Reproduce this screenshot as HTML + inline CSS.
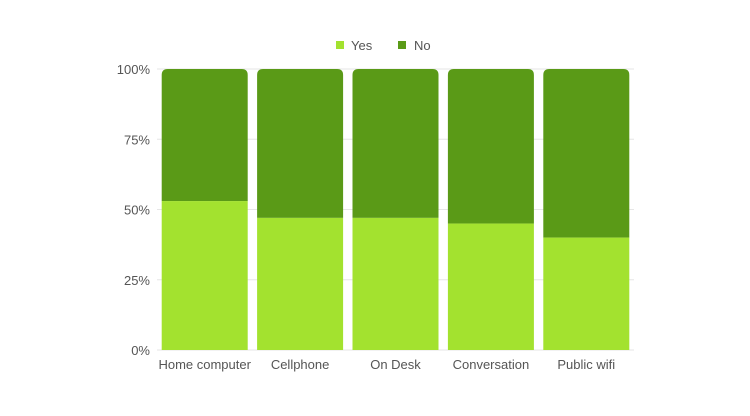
<!DOCTYPE html>
<html><head><meta charset="utf-8"><style>
body{margin:0;background:#fff;}
svg{display:block;font-family:"Liberation Sans",sans-serif;}
</style></head><body>
<svg id="chart" width="750" height="416">
<g>
<rect x="336" y="41" width="8" height="8" fill="#a3e22f"/>
<text x="351" y="50" font-size="13" fill="#555">Yes</text>
<rect x="398" y="41" width="8" height="8" fill="#5a9a17"/>
<text x="414" y="50" font-size="13" fill="#555">No</text>
</g>
<g id="grid"></g><g id="bars"></g><g id="labels"></g>
</svg>
<script>
const categories=["Home computer","Cellphone","On Desk","Conversation","Public wifi"];
const yesValues=[53,47,47,45,40];
const noValues=[47,53,53,55,60];
const tickValues=[0,25,50,75,100];
const tickLabels=["0%","25%","50%","75%","100%"];
const NS="http://www.w3.org/2000/svg";
const top0=69,bot=350,left=157,right=634;
const y=v=>bot-(v/100)*(bot-top0);
const band=(right-left)/categories.length;
const bw=86;
const x=i=>left+band*i+(band-bw)/2;
function mk(t,a,p){const e=document.createElementNS(NS,t);for(const k in a)e.setAttribute(k,a[k]);p.appendChild(e);return e;}
const grid=document.getElementById('grid'),bars=document.getElementById('bars'),labels=document.getElementById('labels');
tickValues.forEach((v,i)=>{
 const l=mk('line',{x1:left,x2:right,y1:y(v),y2:y(v),stroke:'#e6e6e6','stroke-width':1},grid);
 
 
 const t=mk('text',{x:150,y:y(v)+5,'text-anchor':'end','font-size':13,fill:'#555'},labels);
 t.textContent=tickLabels[i];
 
 
});
categories.forEach((c,i)=>{
 const tot=yesValues[i]+noValues[i];
 const yh=yesValues[i]/tot*100;
 const bx=x(i),r=6;
 const yTop=y(100),yMid=y(yh);
 const p=mk('path',{d:`M${bx},${yMid} V${yTop+r} Q${bx},${yTop} ${bx+r},${yTop} H${bx+bw-r} Q${bx+bw},${yTop} ${bx+bw},${yTop+r} V${yMid} Z`,fill:'#5a9a17'},bars);
 
 
 const rr=mk('rect',{x:bx,y:yMid,width:bw,height:bot-yMid,fill:'#a3e22f'},bars);
 
 
 const t=mk('text',{x:bx+bw/2,y:369,'text-anchor':'middle','font-size':13,fill:'#555'},labels);
 t.textContent=c;
 
 
});
</script>
</body></html>
